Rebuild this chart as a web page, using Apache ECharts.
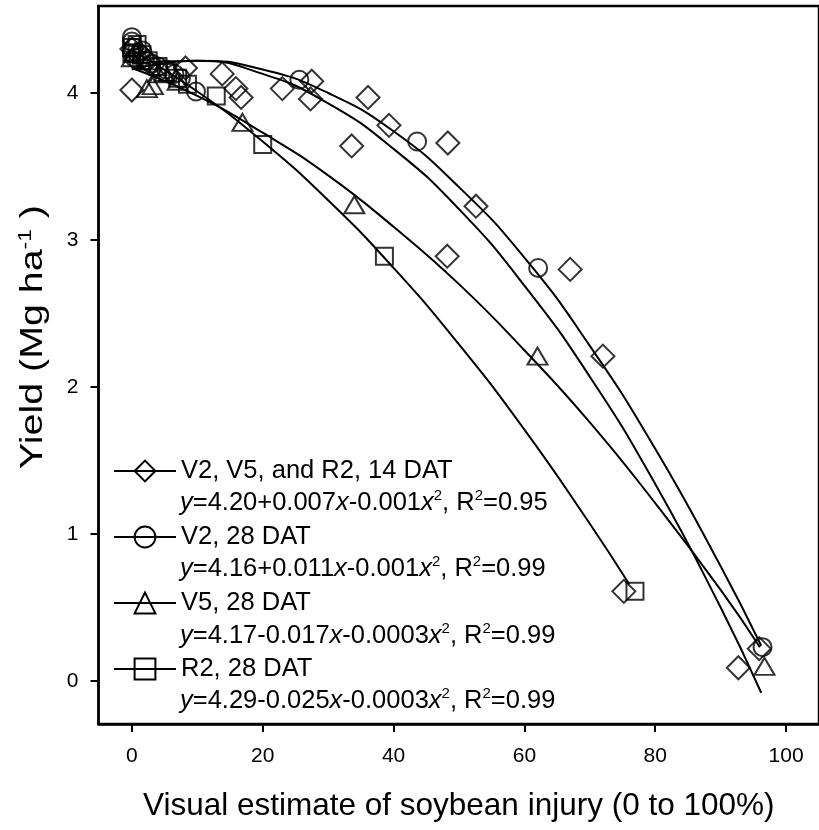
<!DOCTYPE html>
<html><head><meta charset="utf-8">
<script src="https://cdn.jsdelivr.net/npm/echarts@6/dist/echarts.min.js"></script>
<style>html,body{margin:0;padding:0;background:#fff}#c{width:819px;height:830px}</style>
</head><body><div id="c"></div>
<script>
// ---- data ----
const seriesNames = ['V2, V5, and R2, 14 DAT', 'V2, 28 DAT', 'V5, 28 DAT', 'R2, 28 DAT'];
const equationTexts = [
  '{i|y}=4.20+0.007{i|x}-0.001{i|x}{s|2}, R{s|2}=0.95',
  '{i|y}=4.16+0.011{i|x}-0.001{i|x}{s|2}, R{s|2}=0.99',
  '{i|y}=4.17-0.017{i|x}-0.0003{i|x}{s|2}, R{s|2}=0.99',
  '{i|y}=4.29-0.025{i|x}-0.0003{i|x}{s|2}, R{s|2}=0.99'
];
const xTicks = [0, 20, 40, 60, 80, 100];
const yTicks = [0, 1, 2, 3, 4];

// observed points [injury %, yield]
const pts14DAT = [[0,4.02],[0,4.30],[1.2,4.27],[2.4,4.22],[8.2,4.17],[13.8,4.13],[15.9,4.03],[16.7,3.97],[23,4.03],[27.5,4.08],[27.3,3.96],[33.6,3.64],[36.1,3.97],[39.3,3.78],[48.3,3.66],[48.2,2.89],[52.6,3.23],[67,2.80],[72,2.21],[75.2,0.61],[92.7,0.09],[95.9,0.22]];
const ptsV2 = [[0,4.38],[0,4.35],[0.3,4.31],[0,4.27],[0.4,4.24],[1,4.22],[1.6,4.29],[2,4.22],[3,4.20],[4,4.18],[5.2,4.16],[6.5,4.13],[7.5,4.10],[9.8,4.01],[25.6,4.09],[43.6,3.67],[62.1,2.81],[96.4,0.23]];
const ptsV5 = [[0,4.24],[0.5,4.28],[2.3,4.03],[3.2,4.05],[4,4.13],[5,4.14],[7,4.08],[16.9,3.80],[34,3.24],[62,2.21],[96.7,0.10]];
const ptsR2 = [[0,4.31],[0.8,4.33],[0,4.27],[1.5,4.26],[2.5,4.22],[4,4.18],[5.5,4.14],[7,4.10],[8.5,4.06],[12.9,3.98],[20,3.65],[38.6,2.89],[76.9,0.61]];

// fitted curves
const fit14DAT = [[0,4.20],[10,4.22],[20,4.13],[30,3.93],[40,3.62],[50,3.21],[60,2.69],[70,2.07],[80,1.34],[90,0.50],[96.2,-0.08]];
const fitV2 = [[0,4.16],[10,4.22],[20,4.16],[30,4.00],[40,3.74],[50,3.36],[60,2.88],[70,2.28],[80,1.58],[90,0.78],[96.2,0.24]];
const fitV5 = [[0,4.17],[10,3.98],[20,3.73],[30,3.44],[40,3.09],[50,2.70],[60,2.25],[70,1.76],[80,1.21],[90,0.62],[96,0.23]];
const fitR2 = [[0,4.29],[10,4.01],[20,3.67],[30,3.27],[40,2.81],[50,2.29],[60,1.71],[70,1.07],[76,0.66]];

const pointSets = [pts14DAT, ptsV2, ptsV5, ptsR2];
const fitSets = [fit14DAT, fitV2, fitV5, fitR2];
const symbols = ['diamond', 'circle', 'triangle', 'rect'];
const symbolSizes = [23, 18, [20, 17], 17];

// ---- chart ----
const FONT = '"Liberation Sans", Arial, sans-serif';
const chart = echarts.init(document.getElementById('c'), null, {renderer: 'canvas'});
const hollow = {color: 'rgba(0,0,0,0)', borderColor: '#000', borderWidth: 2};

const series = [];
fitSets.forEach((d, k) => {
  series.push({
    name: seriesNames[k], type: 'line', data: d, smooth: true, showSymbol: false,
    symbol: symbols[k], itemStyle: hollow,
    lineStyle: {color: '#000', width: 2}, z: 2, silent: true
  });
});
pointSets.forEach((d, k) => {
  series.push({
    name: 'pts' + k, type: 'scatter', data: d, symbol: symbols[k], symbolSize: symbolSizes[k],
    itemStyle: hollow, z: 3, silent: true
  });
});

const richEq = {
  n: {fontSize: 25.5, fontFamily: FONT, color: '#000', lineHeight: 30},
  i: {fontSize: 25.5, fontFamily: FONT, fontStyle: 'italic', color: '#000', lineHeight: 30},
  s: {fontSize: 15, fontFamily: FONT, color: '#000', lineHeight: 15, verticalAlign: 'top'}
};
const eqY = [503, 569, 636, 701];
const graphics = equationTexts.map((t, k) => ({
  type: 'text', x: 180, y: eqY[k], silent: true,
  style: {text: t, rich: richEq, fontSize: 25.5, fontFamily: FONT, fill: '#000', verticalAlign: 'middle', align: 'left'}
}));
graphics.push({
  type: 'text', x: 33, y: 337, rotation: Math.PI / 2, scaleX: 1.27, silent: true,
  style: {
    text: 'Yield (Mg ha{s|-1} )', fontSize: 31, fontFamily: FONT, fill: '#000',
    align: 'center', verticalAlign: 'middle',
    rich: {s: {fontSize: 18, fontFamily: FONT, color: '#000', lineHeight: 18, verticalAlign: 'top'}}
  }
});

chart.setOption({
  animation: false,
  backgroundColor: '#fff',
  grid: {left: 98.5, top: 6, right: -2.5, bottom: 106, show: true, borderColor: '#000', borderWidth: 2.5, containLabel: false},
  xAxis: {
    type: 'value', min: -5.1, max: 105.03,
    name: 'Visual estimate of soybean injury (0 to 100%)', nameLocation: 'middle', nameGap: 66,
    nameTextStyle: {fontSize: 31.5, fontFamily: FONT, color: '#000'},
    axisLine: {show: true, onZero: false, lineStyle: {color: '#000', width: 2.5}},
    axisTick: {show: true, length: 8, lineStyle: {color: '#000', width: 2}, customValues: xTicks},
    axisLabel: {fontSize: 21, fontFamily: FONT, color: '#000', margin: 22, customValues: xTicks},
    splitLine: {show: false}
  },
  yAxis: {
    type: 'value', min: -0.2925, max: 4.592,
    axisLine: {show: true, onZero: false, lineStyle: {color: '#000', width: 2.5}},
    axisTick: {show: true, length: 8, lineStyle: {color: '#000', width: 2}, customValues: yTicks},
    axisLabel: {fontSize: 21, fontFamily: FONT, color: '#000', margin: 20, customValues: yTicks},
    splitLine: {show: false}
  },
  legend: {
    data: seriesNames, orient: 'vertical', left: 113, top: 458, padding: 0,
    itemWidth: 62, itemHeight: 26, itemGap: 40, selectedMode: false,
    textStyle: {fontSize: 25.5, fontFamily: FONT, color: '#000', lineHeight: 26},
    itemStyle: {color: 'rgba(0,0,0,0)', borderColor: '#000', borderWidth: 2},
    lineStyle: {color: '#000', width: 2}
  },
  graphic: graphics,
  series: series
});
</script></body></html>
